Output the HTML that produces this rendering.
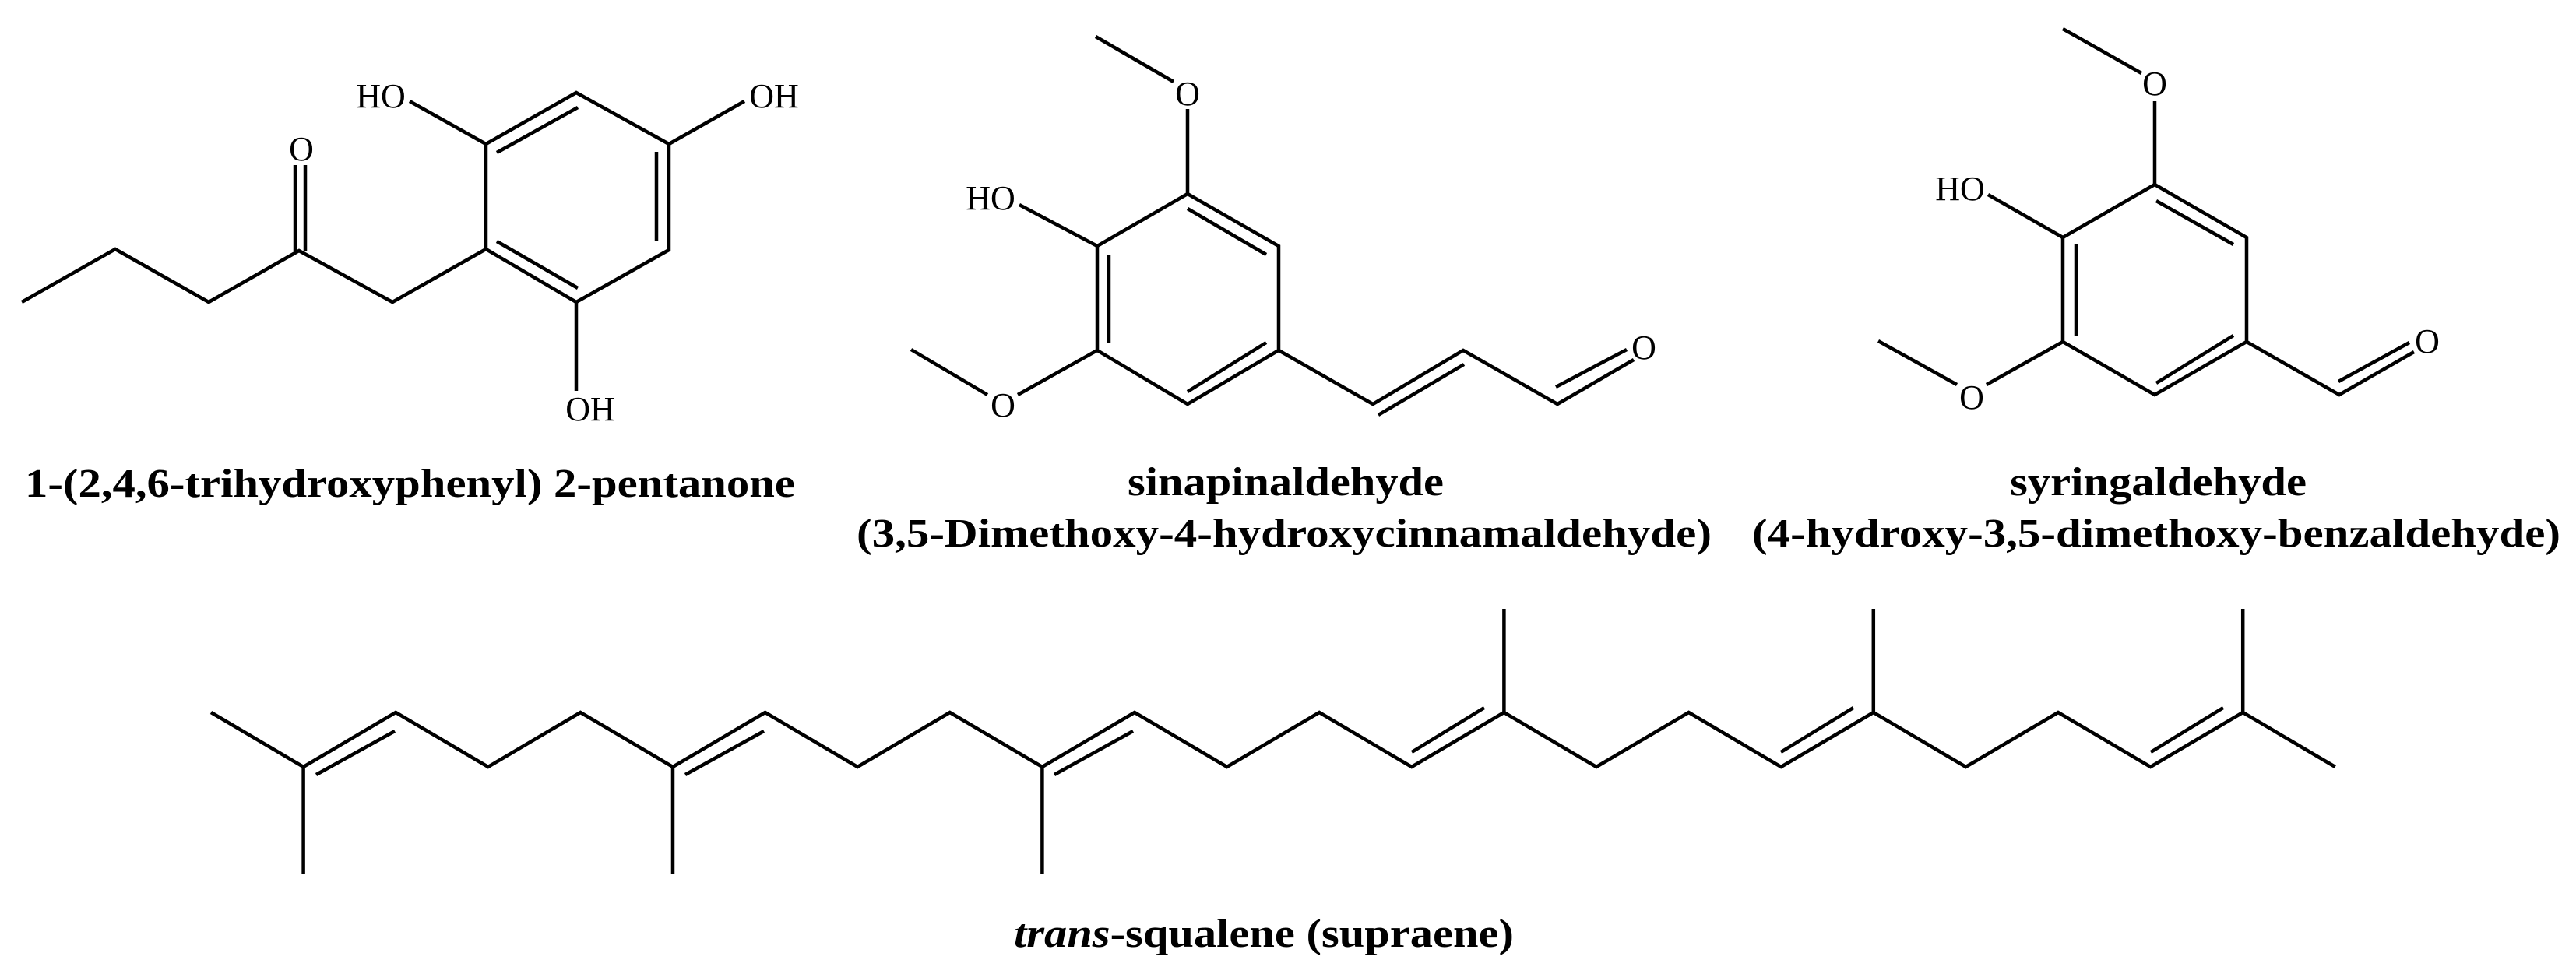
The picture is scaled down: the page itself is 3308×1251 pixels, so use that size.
<!DOCTYPE html>
<html><head><meta charset="utf-8"><style>
html,body{margin:0;padding:0;background:#fff;}
svg{display:block;}
text{font-family:"Liberation Serif","Times New Roman",serif;fill:#000;}
.a{font-size:44px;}
.t{font-size:52px;font-weight:bold;}
</style></head><body>
<svg width="3308" height="1251" viewBox="0 0 3308 1251" xmlns="http://www.w3.org/2000/svg">
<g stroke="#000" stroke-width="4.5" fill="none" stroke-linejoin="miter" stroke-linecap="butt">
<!-- Molecule 1 -->
<polyline points="28,388 148,320 268,388 384,322 504,388 624,320"/>
<line x1="379" y1="322" x2="379" y2="212"/>
<line x1="392" y1="322" x2="392" y2="212"/>
<polygon points="624,185 740,119 859,185 859,321 740,388 624,320"/>
<line x1="638" y1="196" x2="742" y2="138"/>
<line x1="843" y1="195" x2="843" y2="309"/>
<line x1="638" y1="310" x2="742" y2="370"/>
<line x1="624" y1="185" x2="526" y2="130"/>
<line x1="859" y1="185" x2="956" y2="130"/>
<line x1="740" y1="388" x2="740" y2="502"/>

<!-- Molecule 2 -->
<polyline points="1407,47 1507,105"/>
<line x1="1525" y1="140" x2="1525" y2="249"/>
<polygon points="1525,249 1642,316 1642,450 1525,519 1409,450 1409,316"/>
<line x1="1525" y1="268" x2="1626" y2="327"/>
<line x1="1424" y1="327" x2="1424" y2="441"/>
<line x1="1525" y1="503" x2="1626" y2="440"/>
<line x1="1409" y1="316" x2="1309" y2="263"/>
<line x1="1409" y1="450" x2="1307" y2="507"/>
<line x1="1268" y1="507" x2="1170" y2="449"/>
<polyline points="1642,450 1763,519 1879,450 2000,519 2098,462"/>
<line x1="1770" y1="533" x2="1880" y2="468"/>
<line x1="1998" y1="497" x2="2089" y2="449"/>

<!-- Molecule 3 -->
<line x1="2649" y1="37" x2="2750" y2="94"/>
<line x1="2767" y1="130" x2="2767" y2="237"/>
<polygon points="2767,237 2885,305 2885,439 2767,507 2649,439 2649,305"/>
<line x1="2769" y1="258" x2="2868" y2="314"/>
<line x1="2666" y1="314" x2="2666" y2="431"/>
<line x1="2769" y1="492" x2="2868" y2="431"/>
<line x1="2649" y1="305" x2="2553" y2="250"/>
<line x1="2649" y1="439" x2="2551" y2="494"/>
<line x1="2513" y1="494" x2="2412" y2="438"/>
<polyline points="2885,439 3004,507 3100,452"/>
<line x1="3003" y1="490" x2="3094" y2="440"/>

<!-- Squalene -->
<polyline points="271,915 389.6,985 508.2,915 626.8,985 745.4,915 864,985 982.6,915 1101.2,985 1219.8,915 1338.4,985 1457,915 1575.6,985 1694.2,915 1812.8,985 1931.4,915 2050,985 2168.6,915 2287.2,985 2405.8,915 2524.4,985 2643,915 2761.6,985 2880.2,915 2998.8,985"/>
<line x1="389.6" y1="985" x2="389.6" y2="1122"/>
<line x1="864" y1="985" x2="864" y2="1122"/>
<line x1="1338.4" y1="985" x2="1338.4" y2="1122"/>
<line x1="1931.4" y1="915" x2="1931.4" y2="782"/>
<line x1="2405.8" y1="915" x2="2405.8" y2="782"/>
<line x1="2880.2" y1="915" x2="2880.2" y2="782"/>
<line x1="406" y1="995" x2="507" y2="939"/>
<line x1="880" y1="995" x2="981" y2="939"/>
<line x1="1354" y1="995" x2="1455" y2="939"/>
<line x1="1813" y1="966" x2="1906" y2="909"/>
<line x1="2287" y1="966" x2="2380" y2="909"/>
<line x1="2762" y1="966" x2="2855" y2="909"/>
</g>

<!-- atom labels -->
<text class="a" x="387" y="206" text-anchor="middle">O</text>
<text class="a" x="489" y="138" text-anchor="middle">HO</text>
<text class="a" x="994" y="138" text-anchor="middle">OH</text>
<text class="a" x="758" y="540" text-anchor="middle">OH</text>

<text class="a" x="1525" y="135" text-anchor="middle">O</text>
<text class="a" x="1272" y="269" text-anchor="middle">HO</text>
<text class="a" x="1288" y="535" text-anchor="middle">O</text>
<text class="a" x="2111" y="461" text-anchor="middle">O</text>

<text class="a" x="2767" y="122" text-anchor="middle">O</text>
<text class="a" x="2517" y="257" text-anchor="middle">HO</text>
<text class="a" x="2532" y="525" text-anchor="middle">O</text>
<text class="a" x="3117" y="453" text-anchor="middle">O</text>

<!-- titles -->
<text class="t" x="32" y="638" textLength="989" lengthAdjust="spacingAndGlyphs">1-(2,4,6-trihydroxyphenyl) 2-pentanone</text>
<text class="t" x="1448" y="636" textLength="406" lengthAdjust="spacingAndGlyphs">sinapinaldehyde</text>
<text class="t" x="1100" y="702" textLength="1098" lengthAdjust="spacingAndGlyphs">(3,5-Dimethoxy-4-hydroxycinnamaldehyde)</text>
<text class="t" x="2581" y="636" textLength="381" lengthAdjust="spacingAndGlyphs">syringaldehyde</text>
<text class="t" x="2250" y="702" textLength="1038" lengthAdjust="spacingAndGlyphs">(4-hydroxy-3,5-dimethoxy-benzaldehyde)</text>
<text class="t" x="1302" y="1216" textLength="642" lengthAdjust="spacingAndGlyphs"><tspan font-style="italic">trans</tspan>-squalene (supraene)</text>
</svg>
</body></html>
